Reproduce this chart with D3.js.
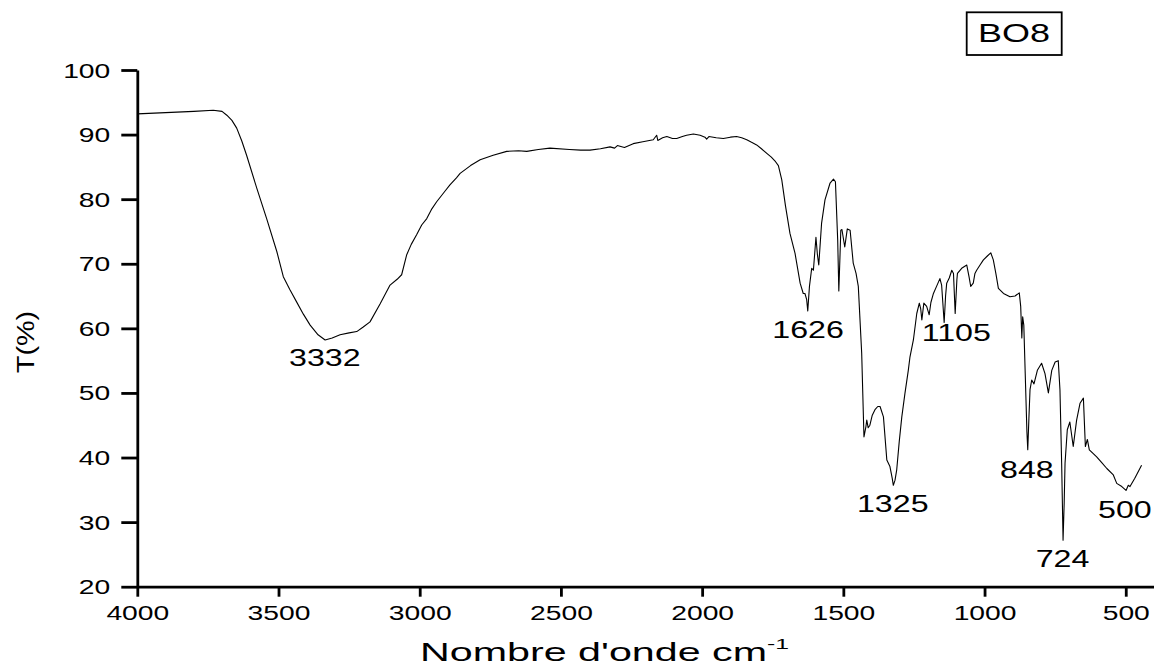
<!DOCTYPE html>
<html>
<head>
<meta charset="utf-8">
<script src="https://cdnjs.cloudflare.com/ajax/libs/d3/7.8.5/d3.min.js"></script>
<style>
  body { margin: 0; background: #fff; }
  svg text { font-family: "Liberation Sans", Arial, sans-serif; fill: #000; }
</style>
</head>
<body>
<div id="chart"></div>
<script>
// spectrum BO8
var wavenumber = [4000,3900,3800,3731,3700,3683,3665,3648,3630,3613,3577,3542,3506,3483,3460,3436,3412,3388,3360,3335,3310,3282,3250,3223,3200,3176,3140,3105,3080,3064,3046,3030,3011,2993,2975,2957,2940,2915,2893,2870,2857,2820,2786,2740,2692,2650,2621,2580,2539,2470,2430,2397,2360,2326,2310,2300,2291,2275,2244,2210,2173,2161,2157,2140,2125,2105,2090,2070,2055,2031,2007,1990,1984,1976,1950,1925,1900,1878,1860,1842,1825,1807,1790,1771,1755,1740,1730,1718,1705,1689,1671,1653,1642,1636,1630,1626,1620,1612,1606,1597,1592,1587,1577,1565,1547,1535,1528,1520,1516,1512,1509,1505,1495,1486,1476,1465,1455,1447,1435,1427,1420,1417,1412,1406,1398,1388,1378,1370,1358,1346,1335,1327,1323,1317,1311,1302,1293,1282,1270,1264,1252,1240,1231,1226,1222,1215,1205,1196,1190,1181,1170,1158,1152,1143,1138,1134,1125,1116,1110,1104,1098,1096,1081,1063,1055,1049,1040,1034,1028,1016,1004,990,978,969,960,951,933,910,892,877,872,868,865,861,856,850,847,843,839,833,825,813,798,786,774,762,750,739,733,727,722,718,715,707,698,686,674,662,650,643,636,629,615,603,585,567,544,532,514,499,491,485,468,444];
var transmittance = [93.2,93.4,93.6,93.76,93.6,93.0,92.2,91.0,89.0,86.8,81.7,77.0,71.9,68.0,66.0,64.1,62.2,60.5,59.0,58.2,58.5,59.0,59.3,59.5,60.2,61.0,63.8,66.7,67.6,68.3,71.4,73.0,74.5,76.0,77.0,78.5,79.6,81.0,82.2,83.3,84.0,85.2,86.1,86.8,87.4,87.5,87.4,87.7,87.9,87.7,87.6,87.6,87.8,88.1,87.9,88.3,88.2,88.0,88.6,88.9,89.2,89.9,89.1,89.5,89.7,89.4,89.4,89.7,89.9,90.1,89.9,89.6,89.3,89.7,89.5,89.4,89.6,89.7,89.5,89.2,88.8,88.4,87.8,87.1,86.5,85.8,85.2,83.0,79.0,74.7,71.6,67.0,65.4,65.4,64.5,62.7,66.5,69.3,69.0,74.1,71.5,69.8,76.3,79.9,82.5,83.1,82.7,73.7,65.8,71.0,75.2,75.3,72.6,75.4,75.2,70.1,68.5,66.5,56.1,43.2,44.8,45.8,44.6,45.0,46.5,47.4,47.9,47.9,46.3,39.6,38.6,36.8,35.7,36.5,38.1,42.5,46.3,49.9,53.5,55.6,58.2,62.3,63.9,63.0,61.3,63.9,63.4,62.1,64.0,65.4,66.5,67.7,66.7,60.9,65.0,67.0,67.8,69.0,68.5,62.3,67.5,68.5,69.3,69.8,68.0,66.5,67.0,68.5,69.0,69.8,70.6,71.2,71.7,70.6,68.5,66.2,65.4,64.9,65.0,65.5,63.4,58.5,61.8,60.5,53.0,44.0,41.2,46.0,50.5,52.0,51.4,53.5,54.6,53.0,50.0,53.5,54.8,55.0,50.5,39.1,27.2,33.0,39.1,44.3,45.5,41.7,45.8,48.4,49.2,41.7,42.8,41.2,40.6,40.1,39.2,38.3,37.3,36.0,35.5,34.9,35.7,35.5,36.8,38.8];

// peak labels: text, wavenumber of label centre, T of label baseline
var peakLabels = ["3332","1626","1105","1325","848","724","500"];
var peakX = [3336,1625,1100,1325,850,724,503];
var peakY = [54.1,58.5,58.0,31.6,36.8,23.1,30.6];

var xTicks = [4000,3500,3000,2500,2000,1500,1000,500];
var xMinor = [3750,3250,2750,2250,1750,1250,750];
var yTicks = [20,30,40,50,60,70,80,90,100];
var yMinor = [25,35,45,55,65,75,85,95];

var sampleName = "BO8";

var W = 1154, H = 668;
var svg = d3.select("#chart").append("svg")
  .attr("width", W).attr("height", H);

var x = d3.scaleLinear().domain([4000, 400]).range([137.3, 1154]);
var y = d3.scaleLinear().domain([20, 100]).range([586.7, 70]);

var sx = 1.45; // text in the picture is stretched wide

// curve
var line = d3.line()
  .x(function(d, i) { return x(wavenumber[i]); })
  .y(function(d, i) { return y(transmittance[i]); });

svg.append("path")
  .datum(wavenumber)
  .attr("d", line)
  .attr("fill", "none")
  .attr("stroke", "#000")
  .attr("stroke-width", 1.1)
  .attr("stroke-linejoin", "round");

// axes
var gx = svg.append("g").attr("transform", "translate(0," + y(20) + ")");
gx.call(d3.axisBottom(x).tickValues(xMinor).tickSize(6).tickSizeOuter(0).tickFormat(""));
gx.call(d3.axisBottom(x).tickValues(xTicks).tickSize(10).tickSizeOuter(0).tickFormat(d3.format("d")));

var gy = svg.append("g").attr("transform", "translate(" + x(4000) + ",0)");
gy.call(d3.axisLeft(y).tickValues(yMinor).tickSize(8).tickSizeOuter(0).tickFormat(""));
gy.call(d3.axisLeft(y).tickValues(yTicks).tickSize(16).tickSizeOuter(0).tickFormat(d3.format("d")));

svg.selectAll(".domain, .tick line")
  .attr("stroke", "#000")
  .attr("stroke-width", 2.8);

gx.selectAll(".tick text")
  .attr("y", null).attr("dy", null)
  .attr("font-size", "19.5px")
  .attr("transform", "translate(0,33) scale(" + sx + ",1)");

gy.selectAll(".tick text")
  .attr("x", null).attr("dy", null)
  .attr("font-size", "19.5px")
  .attr("transform", "translate(-27,7) scale(" + sx + ",1)");

// peak labels
svg.selectAll(".peak")
  .data(peakLabels)
  .enter().append("text")
  .attr("class", "peak")
  .attr("text-anchor", "middle")
  .attr("font-size", "23px")
  .attr("transform", function(d, i) {
    return "translate(" + x(peakX[i]) + "," + y(peakY[i]) + ") scale(1.4,1)";
  })
  .text(function(d) { return d; });

// axis titles
var xt = svg.append("text")
  .attr("font-size", "25px")
  .attr("transform", "translate(420,661) scale(1.65,1)");
xt.append("tspan").text("Nombre d'onde cm");
xt.append("tspan").attr("font-size", "15px").attr("dy", -12).text("-1");

svg.append("text")
  .attr("font-size", "24px")
  .attr("text-anchor", "middle")
  .attr("transform", "translate(34,342) rotate(-90) scale(1.2,1)")
  .text("T(%)");

// sample name box
svg.append("rect")
  .attr("x", 966.7).attr("y", 12.3)
  .attr("width", 95).attr("height", 42.7)
  .attr("fill", "none")
  .attr("stroke", "#000")
  .attr("stroke-width", 1.8);

svg.append("text")
  .attr("font-size", "25px")
  .attr("text-anchor", "middle")
  .attr("transform", "translate(1014,42.3) scale(1.44,1)")
  .text(sampleName);
</script>
</body>
</html>
